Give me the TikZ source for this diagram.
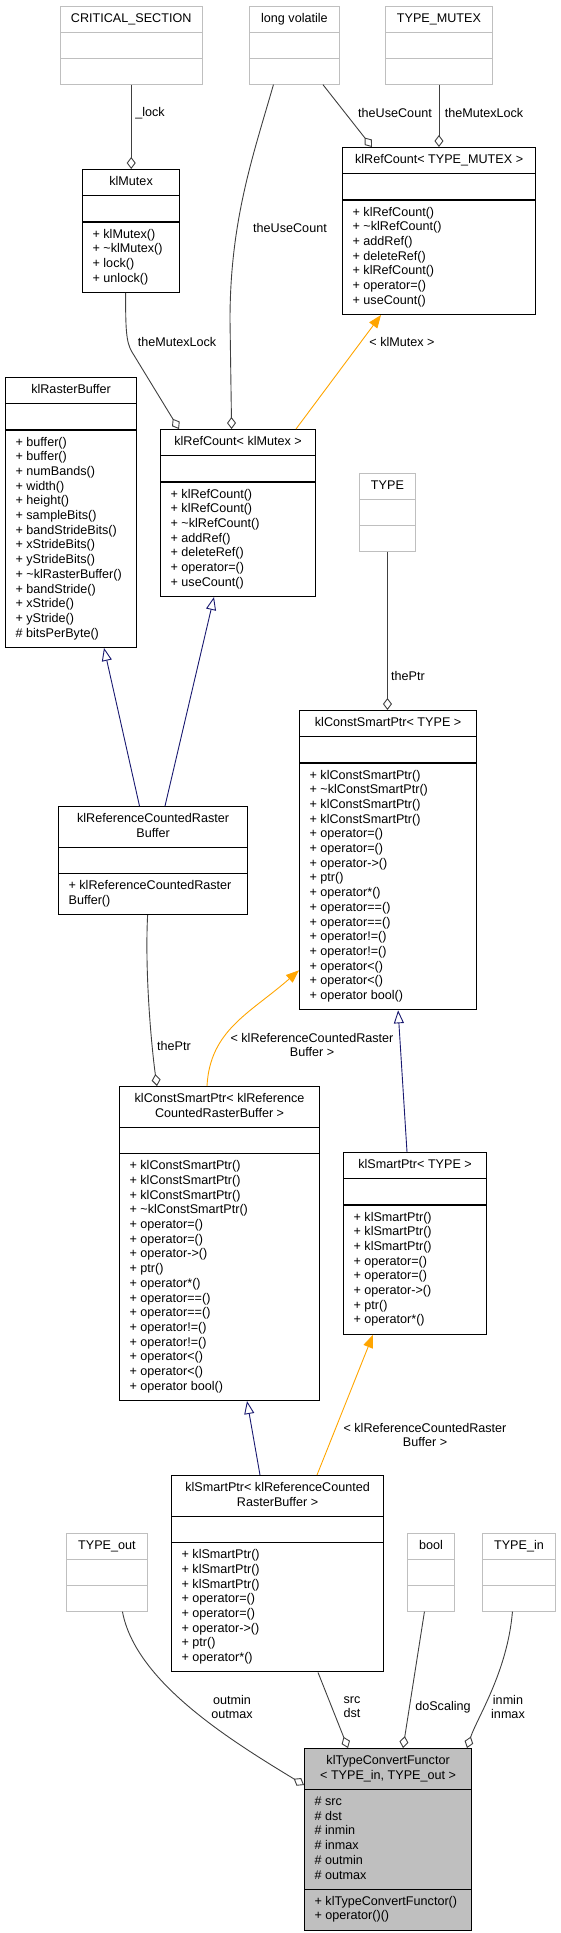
\documentclass[tikz,border=0pt]{standalone}
\usepackage{fontspec}
\setmainfont{Liberation Sans}
\usetikzlibrary{shapes.multipart,arrows.meta}

\definecolor{aggcol}{HTML}{404040}
\definecolor{inhcol}{HTML}{191970}
\definecolor{tplcol}{HTML}{FFA500}
\definecolor{extcol}{HTML}{BFBFBF}
\definecolor{curcol}{HTML}{BFBFBF}

\newcommand{\members}[1]{\begin{tabular}{@{}l@{}}#1\end{tabular}}
\newcommand{\heading}[1]{\begin{tabular}{@{}c@{}}#1\end{tabular}}

\tikzset{
  umlclass/.style={rectangle split, rectangle split parts=3, draw=black, line width=1.2pt,
    fill=white, anchor=north west, inner xsep=10pt, inner ysep=5.15pt,
    rectangle split part align={center,left,left},
    rectangle split empty part height=10.29pt, rectangle split empty part depth=4.41pt,
    minimum width=#1},
  umlext/.style={umlclass=#1, draw=extcol, line width=0.9pt},
  agg/.style={draw=aggcol, line width=0.9pt, -{Diamond[open,fill=white,length=12pt,width=9pt]}},
  inh/.style={draw=inhcol, line width=0.9pt, -{Triangle[open,fill=white,length=13pt,width=10pt]}},
  tpl/.style={draw=tplcol, line width=0.9pt, -{Triangle[length=13pt,width=10pt]}},
  lbl/.style={align=center, inner sep=0pt}
}

\begin{document}
\begin{tikzpicture}[x=1pt, y=-1pt, font=\fontsize{12.6}{14.7}\selectfont]
\useasboundingbox (0,0) rectangle (561,1933);

% classes
\node[umlext=142.5pt] (critical) at (59.5,6) {\heading{CRITICAL\_SECTION}};
\node[umlext=90pt] (longvol) at (249,6) {\heading{long volatile}};
\node[umlext=107pt] (typemutex) at (385,6) {\heading{TYPE\_MUTEX}};
\node[umlclass=97pt] (klmutex) at (82,169) {\heading{klMutex}
  \nodepart{three}\members{+ klMutex()\\+ \textasciitilde klMutex()\\+ lock()\\+ unlock()}};
\node[umlclass=193pt] (refcountT) at (342,147) {\heading{klRefCount< TYPE\_MUTEX >}
  \nodepart{three}\members{+ klRefCount()\\+ \textasciitilde klRefCount()\\+ addRef()\\+ deleteRef()\\+ klRefCount()\\+ operator=()\\+ useCount()}};
\node[umlclass=131pt] (rasterbuf) at (5,377) {\heading{klRasterBuffer}
  \nodepart{three}\members{+ buffer()\\+ buffer()\\+ numBands()\\+ width()\\+ height()\\+ sampleBits()\\+ bandStrideBits()\\+ xStrideBits()\\+ yStrideBits()\\+ \textasciitilde klRasterBuffer()\\+ bandStride()\\+ xStride()\\+ yStride()\\\# bitsPerByte()}};
\node[umlclass=155pt] (refcountM) at (160,429) {\heading{klRefCount< klMutex >}
  \nodepart{three}\members{+ klRefCount()\\+ klRefCount()\\+ \textasciitilde klRefCount()\\+ addRef()\\+ deleteRef()\\+ operator=()\\+ useCount()}};
\node[umlext=56pt] (typeT) at (359,473) {\heading{TYPE}};
\node[umlclass=189pt] (refbuf) at (58,806) {\heading{klReferenceCountedRaster\\Buffer}
  \nodepart{three}\members{+ klReferenceCountedRaster\\Buffer()}};
\node[umlclass=177pt] (cspT) at (299,710) {\heading{klConstSmartPtr< TYPE >}
  \nodepart{three}\members{+ klConstSmartPtr()\\+ \textasciitilde klConstSmartPtr()\\+ klConstSmartPtr()\\+ klConstSmartPtr()\\+ operator=()\\+ operator=()\\+ operator->()\\+ ptr()\\+ operator*()\\+ operator==()\\+ operator==()\\+ operator!=()\\+ operator!=()\\+ operator<()\\+ operator<()\\+ operator bool()}};
\node[umlclass=200pt] (cspR) at (119,1086) {\heading{klConstSmartPtr< klReference\\CountedRasterBuffer >}
  \nodepart{three}\members{+ klConstSmartPtr()\\+ klConstSmartPtr()\\+ klConstSmartPtr()\\+ \textasciitilde klConstSmartPtr()\\+ operator=()\\+ operator=()\\+ operator->()\\+ ptr()\\+ operator*()\\+ operator==()\\+ operator==()\\+ operator!=()\\+ operator!=()\\+ operator<()\\+ operator<()\\+ operator bool()}};
\node[umlclass=143pt] (spT) at (343,1152) {\heading{klSmartPtr< TYPE >}
  \nodepart{three}\members{+ klSmartPtr()\\+ klSmartPtr()\\+ klSmartPtr()\\+ operator=()\\+ operator=()\\+ operator->()\\+ ptr()\\+ operator*()}};
\node[umlclass=212pt] (spR) at (171,1475) {\heading{klSmartPtr< klReferenceCounted\\RasterBuffer >}
  \nodepart{three}\members{+ klSmartPtr()\\+ klSmartPtr()\\+ klSmartPtr()\\+ operator=()\\+ operator=()\\+ operator->()\\+ ptr()\\+ operator*()}};
\node[umlext=81pt] (typeout) at (66,1533) {\heading{TYPE\_out}};
\node[umlext=47pt] (boolb) at (407,1533) {\heading{bool}};
\node[umlext=73pt] (typein) at (482,1533) {\heading{TYPE\_in}};
\node[umlclass=167pt, fill=curcol] (functor) at (304,1748) {\heading{klTypeConvertFunctor\\< TYPE\_in, TYPE\_out >}
  \nodepart{two}\members{\# src\\\# dst\\\# inmin\\\# inmax\\\# outmin\\\# outmax}
  \nodepart{three}\members{+ klTypeConvertFunctor()\\+ operator()()}};

% labels
\node[lbl] (lockL) at (150,113) {\_lock};
\node[lbl] (useA) at (395,113) {theUseCount};
\node[lbl] (mutexA) at (484,113) {theMutexLock};
\node[lbl] (useB) at (290,228) {theUseCount};
\node[lbl] (mutexB) at (177,342) {theMutexLock};
\node[lbl] (klmL) at (402,342) {< klMutex >};
\node[lbl] (ptrA) at (408,676) {thePtr};
\node[lbl] (ptrB) at (174,1046) {thePtr};
\node[lbl] (rcrbA) at (312,1045) {< klReferenceCountedRaster\\Buffer >};
\node[lbl] (rcrbB) at (425,1435) {< klReferenceCountedRaster\\Buffer >};
\node[lbl] (outL) at (232,1707) {outmin\\outmax};
\node[lbl] (srcL) at (352,1707) {src\\dst};
\node[lbl] (scaleL) at (443,1707) {doScaling};
\node[lbl] (inL) at (508,1707) {inmin\\inmax};

% connectors
\draw[agg] (critical.south) -- (critical.south |- klmutex.north);
\draw[agg] ([xshift=-17pt]longvol.south east) -- ([xshift=30pt]refcountT.north west);
\draw[agg] (typemutex.south) -- (typemutex.south |- refcountT.north);
\draw[agg] ([xshift=-5.5pt]klmutex.south) .. controls +(0,36) and +(-6,-10) .. (132,352)
  -- ([xshift=19pt]refcountM.north west);
\draw[agg] ([xshift=-21pt]longvol.south) .. controls +(-20,70) and +(0,-100) .. (230,320)
  -- ([xshift=-6.5pt]refcountM.north);
\draw[tpl] ([xshift=136pt]refcountM.north west) -- ([xshift=39pt]refcountT.south west);
\draw[inh] ([xshift=81.5pt]refbuf.north west) -- ([xshift=99pt]rasterbuf.south west);
\draw[inh] ([xshift=107pt]refbuf.north west) -- ([xshift=54pt]refcountM.south west);
\draw[agg] (typeT.south) -- (typeT.south |- cspT.north);
\draw[agg] ([xshift=-5.5pt]refbuf.south) .. controls +(-3,60) and +(-5,-35) .. ([xshift=38pt]cspR.north west);
\draw[tpl] ([xshift=88pt]cspR.north west) .. controls +(3,-56) and +(-49,43) .. ([yshift=40pt]cspT.south west);
\draw[inh] ([xshift=64pt]spT.north west) -- ([xshift=10pt]cspT.south);
\draw[inh] ([xshift=89pt]spR.north west) -- ([xshift=128pt]cspR.south west);
\draw[tpl] ([xshift=146pt]spR.north west) -- ([xshift=30pt]spT.south west);
\draw[agg] ([xshift=15.5pt]typeout.south) .. controls +(13,70) and +(-74,-45) .. ([yshift=-37pt]functor.north west);
\draw[agg] ([xshift=147pt]spR.south west) -- ([xshift=44pt]functor.north west);
\draw[agg] ([xshift=-6.5pt]boolb.south) -- ([xshift=99pt]functor.north west);
\draw[agg] ([xshift=-6.5pt]typein.south) .. controls +(-5,60) and +(10,-30) .. ([xshift=163pt]functor.north west);
\end{tikzpicture}
\end{document}
